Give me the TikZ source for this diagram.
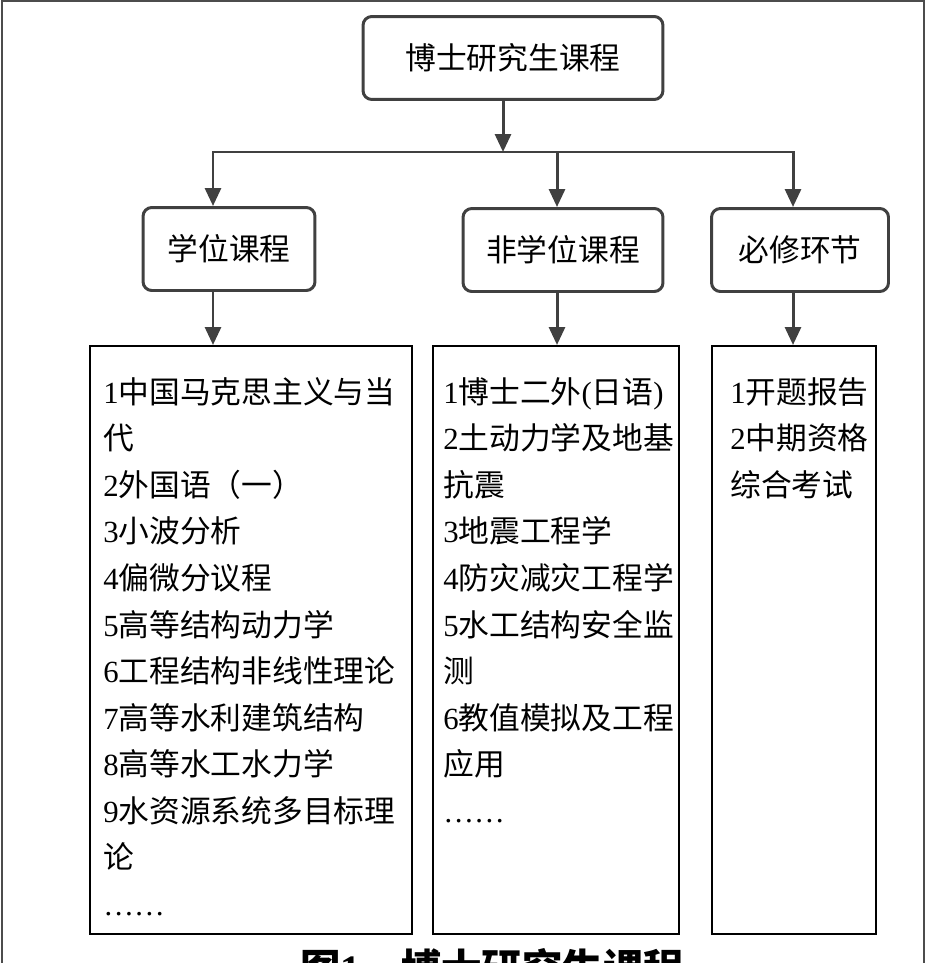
\documentclass[tikz,border=0pt]{standalone}
\usepackage{fontspec}
\setmainfont{Liberation Serif}
\newfontfamily\cjk{Noto Sans CJK SC}
\usepackage{tikz}
\usetikzlibrary{positioning,arrows.meta}
\newcommand{\lat}[1]{{\rmfamily #1}}

\begin{document}
\begin{tikzpicture}[
  x=0.02cm, y=-0.02cm,
  >={Triangle[length=3.6mm,width=3.2mm]},
  hd/.style   = {draw=black!75, line width=1.7pt, rounded corners=5pt,
                 minimum width=#1, minimum height=1.66cm, inner sep=0pt,
                 font=\cjk\fontsize{17.5}{20}\selectfont},
  lst/.style  = {draw=black, line width=1.4pt, minimum width=#1,
                 minimum height=11.76cm, inner sep=0pt, anchor=north},
  itm/.style  = {font=\cjk\fontsize{17.5}{26.5}\selectfont, align=left,
                 text width=#1, inner sep=0pt, anchor=north west},
  conn/.style = {line width=1.7pt, black!75, line cap=rect},
  flow/.style = {->, line width=1.7pt, black!75},
  frm/.style  = {line width=1.1pt, black!70},
  capt/.style = {font=\cjk\bfseries\fontsize{23}{26}\selectfont, inner sep=0pt}
]

\useasboundingbox (0,0) rectangle (926,963);
\clip (0,0) rectangle (926,963);

% outer frame, cut off at the bottom like the scan
\draw[frm] (2,1000) -- (2,1) -- (924,1) -- (924,1000);

% ============================ top level ====================================
\node[hd=6cm] (root) at (513,58) {博士研究生课程};

\node[hd=3.44cm] (xw)  at (229,249) {学位课程};
\node[hd=4cm]    (fxw) at (563,250) {非学位课程};
\node[hd=3.54cm] (bx)  at (800,250) {必修环节};

% ============================ course lists =================================
\node[lst=6.44cm] (xwl)  at (251,345) {};
\node[lst=4.92cm] (fxwl) at (556,345) {};
\node[lst=3.28cm] (bxl)  at (794,345) {};

\node[itm=6.2cm] (xwt) at (103,377)
  {\lat{1}中国马克思主义与当\\
   代\\
   \lat{2}外国语（一）\\
   \lat{3}小波分析\\
   \lat{4}偏微分议程\\
   \lat{5}高等结构动力学\\
   \lat{6}工程结构非线性理论\\
   \lat{7}高等水利建筑结构\\
   \lat{8}高等水工水力学\\
   \lat{9}水资源系统多目标理\\
   论\\
   \lat{\ldots\ldots}};

\node[itm=4.8cm] (fxwt) at (443,377)
  {\lat{1}博士二外\lat{(}日语\lat{)}\\
   \lat{2}土动力学及地基\\
   抗震\\
   \lat{3}地震工程学\\
   \lat{4}防灾减灾工程学\\
   \lat{5}水工结构安全监\\
   测\\
   \lat{6}教值模拟及工程\\
   应用\\
   \lat{\ldots\ldots}};

\node[itm=3cm] (bxt) at (730,377)
  {\lat{1}开题报告\\
   \lat{2}中期资格\\
   综合考试};

% ============================ connectors ===================================
\coordinate (split) at (503,152);
\coordinate (jl) at (213,152);
\coordinate (jm) at (557,152);
\coordinate (jr) at (793,152);

\draw[flow] (split |- root.south) -- (split);
\draw[conn] (jl) -- (jr);

\draw[flow] (jl) -- (jl |- xw.north);
\draw[flow] (jm) -- (jm |- fxw.north);
\draw[flow] (jr) -- (jr |- bx.north);

\draw[flow] (jl |- xw.south)  -- (jl |- xwl.north);
\draw[flow] (jm |- fxw.south) -- (jm |- fxwl.north);
\draw[flow] (jr |- bx.south)  -- (jr |- bxl.north);

% caption, only its top edge shows in the scan
\node[capt, anchor=north] (fig) at (492,948) {图\lat{\bfseries 1}\quad 博士研究生课程};

\end{tikzpicture}
\end{document}
